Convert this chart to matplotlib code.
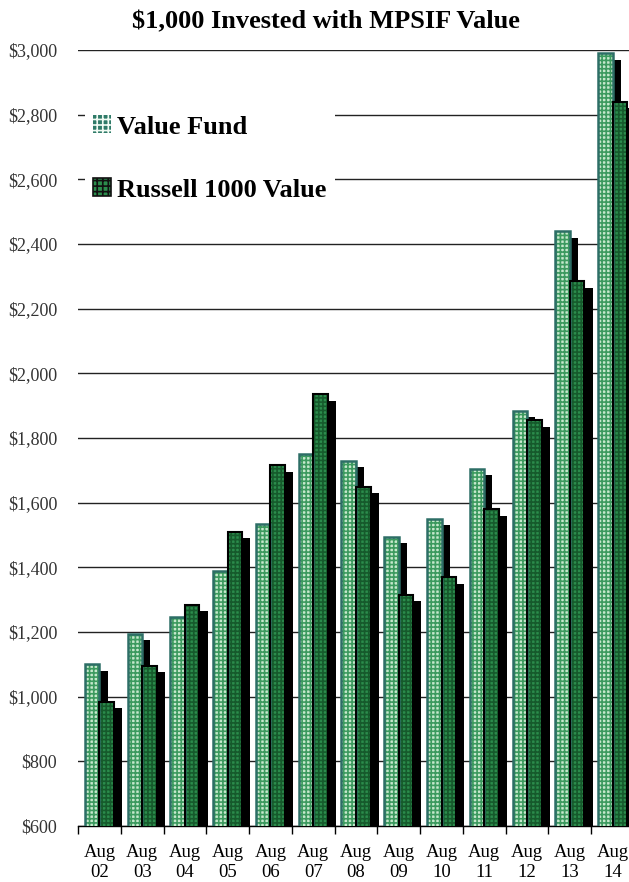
import numpy as np
import matplotlib
matplotlib.use('Agg')
import matplotlib.pyplot as plt
from matplotlib.patches import Patch

# data
years = ['02', '03', '04', '05', '06', '07', '08', '09', '10', '11', '12', '13', '14']
labels = ['Aug\n' + y for y in years]
value_fund = [1100, 1195, 1245, 1390, 1535, 1750, 1730, 1495, 1550, 1705, 1885, 2440, 2990]
russell = [985, 1095, 1285, 1510, 1715, 1935, 1650, 1315, 1370, 1580, 1855, 2285, 2840]
yticks = list(range(600, 3001, 200))

plt.rcParams['font.family'] = ['Liberation Serif', 'DejaVu Serif']
plt.rcParams['hatch.linewidth'] = 1.2

fig = plt.figure(figsize=(6.29, 8.82), dpi=100)
ax = fig.add_axes([78 / 629, 1 - 826 / 882, 556 / 629, 776 / 882])

x = np.arange(len(years))
w = 0.34
dx = 0.19    # shadow offset (category units)
dy = 20      # shadow drop (dollars)

# shadows
ax.bar(x - w / 2 + dx, np.array(value_fund) - dy, w, bottom=0, color='black', zorder=2)
ax.bar(x + w / 2 + dx, np.array(russell) - dy, w, bottom=0, color='black', zorder=2)

# value fund bars
ax.bar(x - w / 2, value_fund, w, color='#c6e8cd', edgecolor='#3c9a5f',
       hatch='++++', linewidth=0, zorder=3)
ax.bar(x - w / 2, value_fund, w, facecolor='none', edgecolor='#2d6e66',
       linewidth=1.8, zorder=4)

# russell bars
ax.bar(x + w / 2, russell, w, color='#2b8c4c', edgecolor='#165a2c',
       hatch='++++', linewidth=0, zorder=3)
ax.bar(x + w / 2, russell, w, facecolor='none', edgecolor='black',
       linewidth=1.5, zorder=4)

ax.set_xlim(-0.5, len(years) - 0.5)
ax.set_ylim(600, 3000)

ax.set_yticks(yticks)
ax.set_yticklabels(['\\$' + format(v, ',') for v in yticks], color='#333333', fontsize=13)
ax.tick_params(axis='y', length=0, pad=15)
ax.yaxis.grid(True, color='#222222', linewidth=1.0)
ax.set_axisbelow(True)

ax.set_xticks(x)
ax.set_xticklabels(labels, fontsize=13.5, linespacing=1.2)
ax.set_xticks(np.arange(len(years) + 1) - 0.5, minor=True)
ax.tick_params(axis='x', which='major', length=0, pad=13)
ax.tick_params(axis='x', which='minor', length=6, width=1.0, direction='out')

for s in ['top', 'right', 'left']:
    ax.spines[s].set_visible(False)
ax.spines['bottom'].set_linewidth(1.0)

fig.text(326 / 629, 1 - 22 / 882, '\\$1,000 Invested with MPSIF Value',
         ha='center', va='center', fontsize=19, fontweight='bold')

handles = [
    Patch(facecolor='#2f7a68', edgecolor='#f2fbf4', hatch='+++', linewidth=0),
    Patch(facecolor='#2b8c4c', edgecolor='#111111', hatch='+++', linewidth=1.2),
]
leg = ax.legend(handles, ['Value Fund', 'Russell 1000 Value'],
                loc='upper left', bbox_to_anchor=(0.0126, 0.926),
                borderaxespad=0, borderpad=0.3, labelspacing=1.5,
                handlelength=0.68, handleheight=0.68, handletextpad=0.25,
                frameon=True, fancybox=False, framealpha=1,
                prop={'size': 19, 'weight': 'bold'})
leg.get_frame().set_edgecolor('none')
leg.get_frame().set_facecolor('white')

fig.savefig('out.png', dpi=100)
